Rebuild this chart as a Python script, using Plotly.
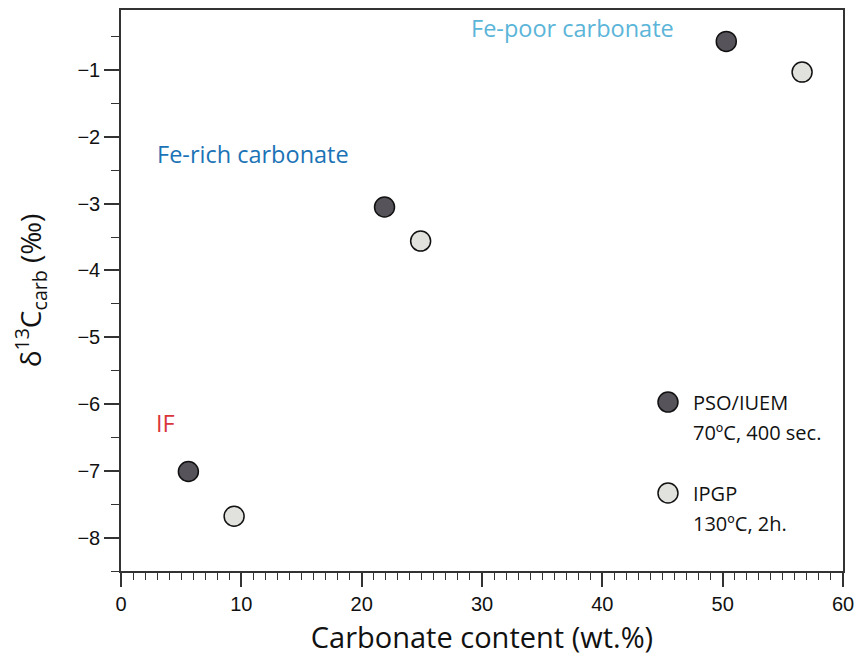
import plotly.graph_objects as go

# Carbonate content (wt.%) and δ13C_carb (‰) by laboratory
pso_x = [5.6, 21.9, 50.3]
pso_y = [-7.01, -3.05, -0.57]
ipgp_x = [9.4, 24.9, 56.6]
ipgp_y = [-7.68, -3.56, -1.03]

pso_fill = "#57535a"
ipgp_fill = "#e1e1dd"

# Key entries: two text lines per laboratory
key_lines = [["PSO/IUEM", "70ºC, 400 sec."], ["IPGP", "130ºC, 2h."]]
key_fills = [pso_fill, ipgp_fill]

# Group labels: text, x, y, colour
group_text = ["Fe-poor carbonate", "Fe-rich carbonate", "IF"]
group_x = [37.5, 10.95, 3.7]
group_y = [-0.37, -2.25, -6.28]
group_color = ["#5bb5d9", "#1b73b6", "#d9363b"]

label_font = "Open Sans, Noto Sans, sans-serif"
tick_font = "Liberation Sans, Arial, sans-serif"

fig = go.Figure()
fig.add_trace(go.Scatter(
    x=pso_x, y=pso_y, mode="markers", name="PSO/IUEM",
    marker=dict(size=20, color=pso_fill, line=dict(color="#111111", width=1.5)),
))
fig.add_trace(go.Scatter(
    x=ipgp_x, y=ipgp_y, mode="markers", name="IPGP",
    marker=dict(size=20, color=ipgp_fill, line=dict(color="#111111", width=1.5)),
))

for t, gx, gy, c in zip(group_text, group_x, group_y, group_color):
    fig.add_annotation(x=gx, y=gy, text=t, showarrow=False,
                       font=dict(family=label_font, size=23.5, color=c),
                       xanchor="center", yanchor="middle")

# Hand-built key in the lower right of the plot area
key_x = 0.7576
key_text_x = 0.789
key_y = [0.3012, 0.139]
line_gap = 0.0535
for lines, fill, ky in zip(key_lines, key_fills, key_y):
    fig.add_shape(type="circle", xref="paper", yref="paper",
                  xsizemode="pixel", ysizemode="pixel",
                  xanchor=key_x, yanchor=ky, x0=-10, x1=10, y0=-10, y1=10,
                  fillcolor=fill, line=dict(color="#111111", width=1.5))
    for i, ln in enumerate(lines):
        fig.add_annotation(xref="paper", yref="paper", x=key_text_x, y=ky - i * line_gap,
                           text=ln, showarrow=False, xanchor="left", yanchor="middle",
                           font=dict(family=label_font, size=20, color="#111111"))

fig.update_layout(
    width=860, height=660,
    margin=dict(l=121, r=17, t=10, b=89, autoexpand=False),
    paper_bgcolor="white", plot_bgcolor="white",
    showlegend=False,
    xaxis=dict(
        range=[0, 60], dtick=10, tick0=0, automargin=False,
        showgrid=False, zeroline=False,
        showline=True, linecolor="#333333", linewidth=1.5, mirror=True,
        ticks="outside", ticklen=14, tickwidth=1.5, tickcolor="#333333",
        minor=dict(dtick=1, ticks="outside", ticklen=7, tickwidth=1.2, tickcolor="#333333", showgrid=False),
        tickfont=dict(family=tick_font, size=20, color="#111111"),
        title=dict(text="Carbonate content (wt.%)",
                   font=dict(family=label_font, size=29, color="#111111"), standoff=14),
    ),
    yaxis=dict(
        range=[-8.5, -0.1], dtick=1, tick0=-8, automargin=False,
        showgrid=False, zeroline=False,
        showline=True, linecolor="#333333", linewidth=1.5, mirror=True,
        ticks="outside", ticklen=15, tickwidth=1.5, tickcolor="#333333",
        minor=dict(dtick=0.5, ticks="outside", ticklen=8, tickwidth=1.2, tickcolor="#333333", showgrid=False),
        tickfont=dict(family=tick_font, size=20, color="#111111"),
        title=dict(text="δ<sup>13</sup>C<sub>carb</sub> (‰)",
                   font=dict(family=label_font, size=28, color="#111111"), standoff=28),
    ),
)

fig.write_html("out.html")
